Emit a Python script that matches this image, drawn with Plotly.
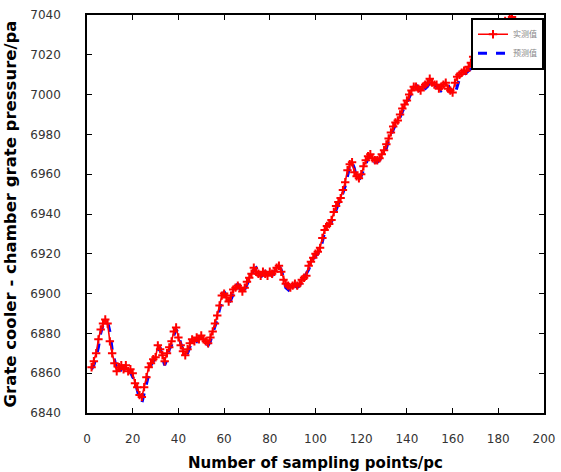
import plotly.graph_objects as go

x_start = 2
measured = [
    6863, 6866, 6870, 6877, 6882, 6885, 6887, 6885, 6876, 6870,
    6865, 6861, 6863, 6864, 6862, 6864, 6861, 6862, 6860, 6855,
    6853, 6849, 6848, 6853, 6858, 6863, 6865, 6867, 6868, 6874,
    6872, 6869, 6866, 6870, 6873, 6876, 6881, 6883, 6878, 6874,
    6871, 6869, 6872, 6875, 6877, 6876, 6878, 6877, 6879, 6877,
    6876, 6875, 6878, 6881, 6885, 6889, 6894, 6899, 6900, 6898,
    6896, 6899, 6902, 6903, 6904, 6903, 6901, 6903, 6906, 6908,
    6910, 6913, 6911, 6910, 6909, 6911, 6910, 6909, 6911, 6910,
    6911, 6913, 6914, 6911, 6907, 6905, 6904, 6903, 6904, 6905,
    6904, 6905, 6907, 6908, 6909, 6914, 6916, 6918, 6920, 6921,
    6923, 6928, 6932, 6934, 6935, 6937, 6941, 6944, 6946, 6948,
    6952, 6956, 6962, 6965, 6966, 6961, 6959, 6958, 6960, 6964,
    6967, 6969, 6970, 6968, 6967, 6967, 6968, 6970, 6972, 6975,
    6978, 6981, 6984, 6986, 6987, 6990, 6993, 6995, 6997, 7000,
    7002, 7004, 7004, 7003, 7002, 7004, 7005, 7006, 7008, 7006,
    7005, 7005, 7003, 7004, 7005, 7006, 7003, 7002, 7001, 7006,
    7009, 7010, 7011, 7012, 7012, 7014, 7016, 7019, 7020, 7021,
    7021, 7023, 7025, 7027, 7029, 7030, 7032, 7033, 7034, 7035,
    7036, 7037, 7036, 7038, 7039, 7037, 7036, 7035, 7036, 7034,
    7035, 7033, 7034, 7032, 7033, 7031, 7032, 7033, 7032,
]
predicted = [
    6862, 6864, 6868, 6873, 6880, 6884, 6886, 6886, 6881, 6872,
    6867, 6862, 6860, 6862, 6863, 6861, 6863, 6860, 6858, 6856,
    6851, 6847, 6845, 6850, 6855, 6860, 6864, 6866, 6868, 6871,
    6873, 6868, 6864, 6867, 6872, 6874, 6879, 6882, 6880, 6875,
    6872, 6869, 6870, 6873, 6876, 6877, 6876, 6878, 6878, 6877,
    6875, 6874, 6876, 6880, 6883, 6887, 6892, 6897, 6901, 6899,
    6895, 6897, 6900, 6903, 6905, 6902, 6900, 6902, 6905, 6907,
    6909, 6912, 6913, 6911, 6908, 6910, 6911, 6908, 6910, 6909,
    6912, 6912, 6914, 6912, 6908, 6903, 6902, 6901, 6902, 6904,
    6903, 6904, 6906, 6907, 6910, 6912, 6915, 6917, 6919, 6920,
    6922, 6926, 6931, 6933, 6935, 6936, 6939, 6943, 6945, 6947,
    6950, 6954, 6959, 6964, 6966, 6963, 6958, 6957, 6959, 6962,
    6966, 6968, 6970, 6969, 6966, 6966, 6967, 6969, 6971, 6973,
    6977, 6980, 6983, 6985, 6986, 6989, 6992, 6994, 6996, 6999,
    7001, 7003, 7005, 7003, 7000, 7001, 7003, 7004, 7006, 7007,
    7006, 7004, 7004, 7002, 7003, 7004, 7005, 7002, 7000, 7000,
    7004, 7008, 7009, 7010, 7011, 7012, 7013, 7015, 7017, 7020,
    7020, 7022, 7022, 7024, 7026, 7028, 7029, 7031, 7032, 7033,
    7033, 7035, 7036, 7036, 7035, 7037, 7038, 7036, 7035, 7034,
    7035, 7035, 7034, 7033, 7034, 7032, 7032, 7031, 7031,
]
x_measured = list(range(x_start, x_start + len(measured)))
x_predicted = list(range(x_start, x_start + len(predicted)))

name_measured = "实测值"
name_predicted = "预测值"
x_title = "Number of sampling points/pc"
y_title = "Grate cooler - chamber grate pressure/pa"

fig = go.Figure()
fig.add_trace(go.Scatter(
    x=x_predicted, y=predicted, name=name_predicted, mode="lines",
    line=dict(color="#0000ff", width=3, dash="dash"), legendrank=2,
))
fig.add_trace(go.Scatter(
    x=x_measured, y=measured, name=name_measured, mode="lines+markers",
    line=dict(color="#ff0000", width=1.6),
    marker=dict(symbol="cross-thin", size=6, line=dict(color="#ff0000", width=2)),
    legendrank=1,
))

axis_common = dict(
    showline=True, linecolor="black", linewidth=1.5, mirror="allticks",
    ticks="inside", ticklen=5, tickcolor="black", tickwidth=1.2,
    showgrid=False, zeroline=False, automargin=False,
    tickfont=dict(family="DejaVu Sans", size=12, color="#333333"),
)
fig.update_xaxes(range=[0, 200], dtick=20, tick0=0, ticklabelstandoff=14,
                 title=dict(text=x_title, standoff=12,
                            font=dict(family="DejaVu Sans", size=15, color="black", weight="bold")),
                 **axis_common)
fig.update_yaxes(range=[6840, 7040], dtick=20, tick0=6840, ticklabelstandoff=22,
                 title=dict(text=y_title, standoff=10,
                            font=dict(family="DejaVu Sans", size=16.5, color="black", weight="bold")),
                 **axis_common)

fig.update_layout(
    width=561, height=472,
    margin=dict(l=87, r=17, t=15, b=59),
    plot_bgcolor="white", paper_bgcolor="white",
    legend=dict(x=1.0, y=0.993, xanchor="right", yanchor="top",
                bgcolor="white", bordercolor="black", borderwidth=2,
                itemwidth=30, tracegroupgap=0,
                font=dict(family="Noto Sans CJK SC", size=8, color="#888888")),
)

fig.write_html("out.html")
